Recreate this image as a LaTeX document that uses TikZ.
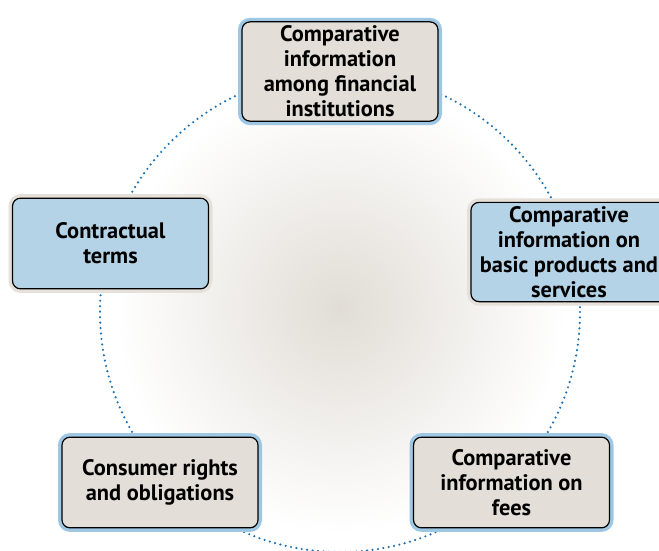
\documentclass[tikz,border=0pt]{standalone}
\usepackage{fontspec}
\setmainfont{PT Sans}
\usepackage{xcolor}
\definecolor{boxgray}{RGB}{227,223,216}
\definecolor{boxblue}{RGB}{181,211,230}
\definecolor{ringblue}{RGB}{158,199,228}
\definecolor{ringgray}{RGB}{229,225,218}
\definecolor{dotblue}{RGB}{28,112,180}
\definecolor{glowc}{RGB}{225,221,214}

\begin{document}
\begin{tikzpicture}[x=0.75pt, y=-0.75pt,
  box/.style={rectangle, rounded corners=6pt, draw=black, line width=0.9pt,
              minimum width=147pt, minimum height=68pt, inner sep=3pt,
              font=\fontsize{16.8}{18.75}\selectfont\bfseries, align=center},
  graybox/.style={box, fill=boxgray,
              preaction={draw=ringblue, line width=6pt, rounded corners=6pt}},
  bluebox/.style={box, fill=boxblue,
              preaction={draw=ringgray, line width=6pt, rounded corners=6pt}},
  ring/.style={draw=dotblue, line width=1.8pt, line cap=round,
               dash pattern=on 0pt off 4.1pt}]
  \useasboundingbox (0,0) rectangle (659,550);
  \coordinate (hub) at (340,308);
  \shade[inner color=glowc, outer color=white] (hub) circle[radius=225];
  \draw[ring] (hub) ++(0,4) circle[radius=240];
  \node[graybox] (CI) at (340,71.5) {Comparative\\information\\among financial\\institutions};
  \node[bluebox] (PS) at (569,252) {Comparative\\information on\\basic products and\\services};
  \node[graybox] (FE) at (511.5,482.5) {Comparative\\information on\\fees};
  \node[graybox] (RO) at (160,482.5) {Consumer rights\\and obligations};
  \node[bluebox] (CT) at (110.5,243.5) {Contractual\\terms};
\end{tikzpicture}
\end{document}
